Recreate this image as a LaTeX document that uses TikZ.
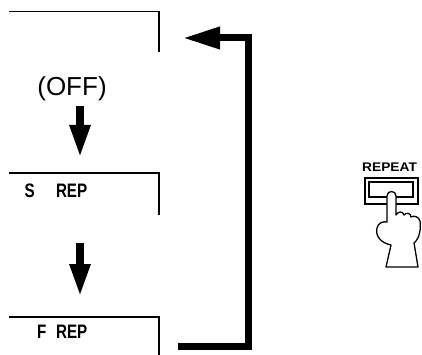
\documentclass[tikz,border=0pt]{standalone}
\usepackage{fontspec}
\setmainfont{Liberation Sans}
\usepackage{tikz}
\usetikzlibrary{arrows.meta}
\tikzstyle{downarrow} = [line width=8pt,-{Triangle[length=33pt,width=19pt]}]
\tikzstyle{looparrow} = [line width=7pt,line join=miter,-{Triangle[length=37pt,width=21pt]}]
\tikzstyle{bracket} = [line width=1.2pt]
\tikzstyle{lcd} = [font=\bfseries\fontsize{19.5}{19.5}\selectfont,inner sep=0pt,anchor=base west]

\begin{document}
\begin{tikzpicture}[x=1pt,y=-1pt]
            \useasboundingbox (0,0) rectangle (422,355);
            % display windows
            \draw[bracket] (9,11.5) -- (159,11.5) -- (159,52);
            \draw[bracket] (9,173) -- (159,173) -- (159,215);
            \draw[bracket] (9,317) -- (159,317) -- (159,355);
            \node[font=\fontsize{26}{26}\selectfont,inner sep=0pt] (off) at (72,89) {(OFF)};
            \node[lcd] (srep) at (24.3,197) {\scalebox{0.78}[1]{S\hspace{27.4pt}REP}};
            \node[lcd] (frep) at (36.8,338) {\scalebox{0.78}[1]{F\hspace{12.5pt}REP}};
            % steps
            \coordinate (offa) at (80,106);
            \coordinate (srepa) at (80,158);
            \coordinate (srepb) at (80,243);
            \coordinate (frepa) at (80,297);
            \draw[downarrow] (offa) -- (srepa);
            \draw[downarrow] (srepb) -- (frepa);
            % back to the start
            \coordinate (frepout) at (178,346);
            \coordinate (cornerb) at (248,346);
            \coordinate (cornert) at (248,38);
            \coordinate (offin) at (183,38);
            \draw[looparrow] (frepout) -- (cornerb) -- (cornert) -- (offin);
            % repeat button
            \node[font=\bfseries\fontsize{12.5}{12.5}\selectfont,inner sep=0pt,anchor=base west] (rep) at (362,172) {\scalebox{1.1}[1]{REPEAT}};
            \draw[line width=1.3pt] (365,178) rectangle (418,204);
            \draw[line width=1.3pt] (369,182) rectangle (413,197);
            \filldraw[line width=1.3pt,fill=white,line join=round] (387,222) -- (387,196)
                .. controls (387,190) and (396,190) .. (396,196) -- (396,215)
                .. controls (398,211) and (403,211) .. (404,215)
                .. controls (406,212) and (411,213) .. (411,217)
                .. controls (414,215) and (419,217) .. (420,221)
                .. controls (421,228) and (420,238) .. (414,243)
                -- (418,267) -- (386,267) -- (391,245)
                .. controls (381,243) and (375,236) .. (377,228)
                .. controls (378,223) and (383,221) .. (387,222) -- cycle;
        \end{tikzpicture}
\end{document}
